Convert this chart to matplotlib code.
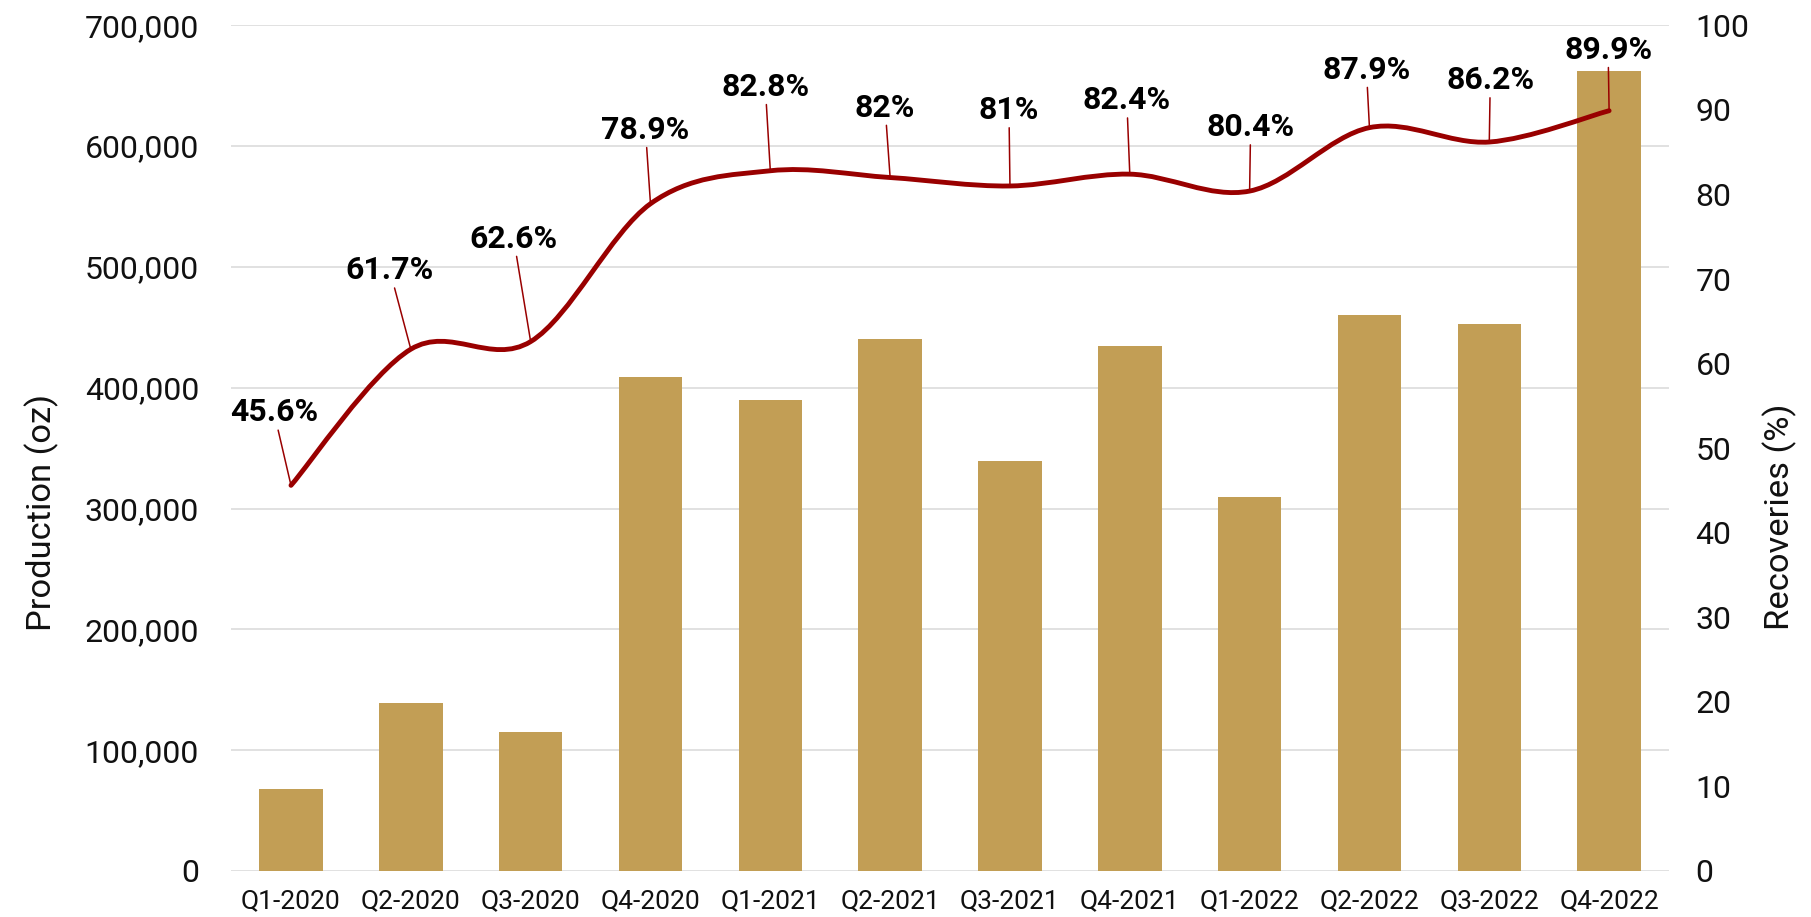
import matplotlib
matplotlib.use("Agg")
import matplotlib.pyplot as plt
from matplotlib.path import Path
from matplotlib.patches import PathPatch
from matplotlib.ticker import FuncFormatter, MultipleLocator

plt.rcParams['font.family'] = ['Roboto', 'DejaVu Sans']

quarters = ["Q1-2020", "Q2-2020", "Q3-2020", "Q4-2020", "Q1-2021", "Q2-2021",
            "Q3-2021", "Q4-2021", "Q1-2022", "Q2-2022", "Q3-2022", "Q4-2022"]
production_oz = [68000, 139000, 115000, 409000, 390000, 440000,
                 339000, 434500, 309500, 460000, 452500, 662000]
recoveries_pct = [45.6, 61.7, 62.6, 78.9, 82.8, 82.0, 81.0, 82.4, 80.4, 87.9, 86.2, 89.9]
recovery_labels = ["45.6%", "61.7%", "62.6%", "78.9%", "82.8%", "82%",
                   "81%", "82.4%", "80.4%", "87.9%", "86.2%", "89.9%"]
# label placement offsets (pixels) relative to each point
label_dx = [-17, -21, -17, -5, -5, -5, -1, -3, 1, -3, 1, -1]
label_dy = [73, 79, 103, 74, 84, 70, 76, 74, 64, 58, 62, 61]

BAR = "#C29E55"
LINE = "#990000"
GRID = "#D9D9D9"

fig = plt.figure(figsize=(18.11, 9.17), dpi=100)
ax = fig.add_axes([0.1276, 0.0502, 0.9216 - 0.1276, 0.9724 - 0.0502])
ax2 = ax.twinx()

x = list(range(len(quarters)))
ax.bar(x, production_oz, width=0.53, color=BAR, zorder=2)
ax.set_xlim(-0.5, len(quarters) - 0.5)
ax.set_ylim(0, 700000)
ax.yaxis.set_major_locator(MultipleLocator(100000))
ax.yaxis.set_major_formatter(FuncFormatter(lambda v, p: f"{int(v):,}"))
ax.grid(axis='y', color=GRID, linewidth=1.1, zorder=0)
ax.set_axisbelow(True)
ax.set_xticks(x)
ax.set_xticklabels(quarters, fontsize=19)
ax.tick_params(axis='x', length=0, pad=13, colors='#111111')
ax.tick_params(axis='y', length=0, pad=23, labelsize=23, colors='#111111')
for s in ax.spines.values():
    s.set_visible(False)
ax.set_ylabel("Production (oz)", fontsize=24.8, va='center', color='#111111')
ax.yaxis.set_label_coords(-0.1314, 0.4235)

ax2.set_ylim(0, 100)
ax2.yaxis.set_major_locator(MultipleLocator(10))
ax2.tick_params(axis='y', length=0, pad=19, labelsize=23, colors='#111111')
for s in ax2.spines.values():
    s.set_visible(False)
ax2.set_ylabel("Recoveries (%)", fontsize=24.8, va='center', rotation=90, color='#111111')
ax2.yaxis.set_label_coords(1.077, 0.419)

# smoothed line (Catmull-Rom style Bezier through the data points)
pts = list(zip(x, recoveries_pct))
n = len(pts)
verts = [pts[0]]
codes = [Path.MOVETO]
for i in range(n - 1):
    p0 = pts[max(i - 1, 0)]
    p1 = pts[i]
    p2 = pts[i + 1]
    p3 = pts[min(i + 2, n - 1)]
    c1 = (p1[0] + (p2[0] - p0[0]) / 6.0, p1[1] + (p2[1] - p0[1]) / 6.0)
    c2 = (p2[0] - (p3[0] - p1[0]) / 6.0, p2[1] - (p3[1] - p1[1]) / 6.0)
    verts += [c1, c2, p2]
    codes += [Path.CURVE4] * 3
patch = PathPatch(Path(verts, codes), facecolor='none', edgecolor=LINE,
                  linewidth=3.5, capstyle='round', joinstyle='round', zorder=3)
ax2.add_patch(patch)

for i, (xi, yi) in enumerate(pts):
    ax2.annotate(recovery_labels[i], xy=(xi, yi),
                 xytext=(label_dx[i], label_dy[i]), textcoords='offset pixels',
                 ha='center', va='center', fontsize=23, fontweight='bold',
                 color='black', zorder=4,
                 arrowprops=dict(arrowstyle='-', color=LINE, lw=1.1,
                                 shrinkA=0, shrinkB=0))

fig.savefig("out.png", dpi=100, facecolor='white')
